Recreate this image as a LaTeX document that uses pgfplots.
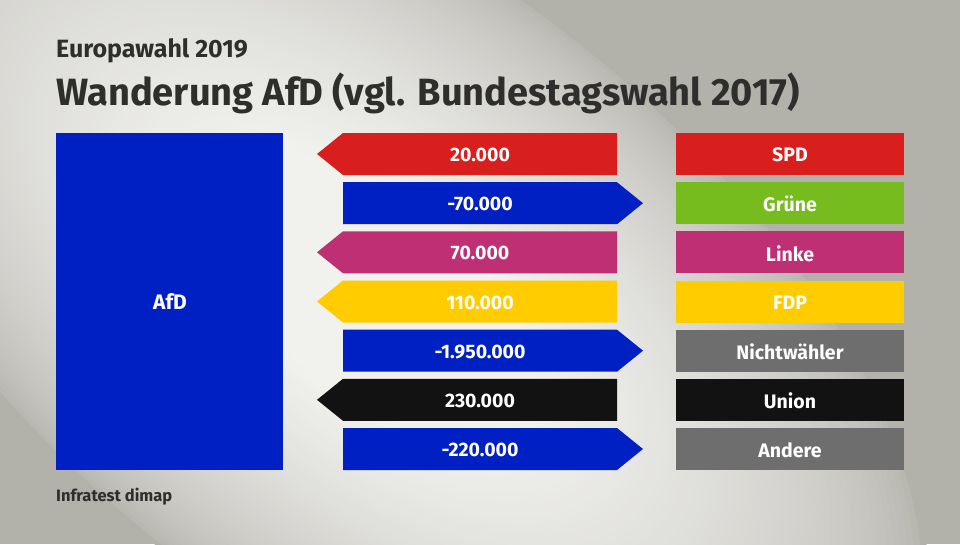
\documentclass[border=0pt]{standalone}
\usepackage{pgfplots}
\pgfplotsset{compat=1.18}
\usepackage{fontspec}
\setmainfont{Fira Sans}
\definecolor{afd}{HTML}{0020C4}
\definecolor{spd}{HTML}{D81F1E}
\definecolor{gruene}{HTML}{76BC1E}
\definecolor{linke}{HTML}{BE2F74}
\definecolor{fdp}{HTML}{FFCC00}
\definecolor{nw}{HTML}{6E6E6E}
\definecolor{union}{HTML}{121212}
\definecolor{andere}{HTML}{6E6E6E}
\definecolor{txt}{HTML}{2E2E2C}
\definecolor{bgA}{HTML}{F1F1EE}
\definecolor{bgB}{HTML}{B2B1AA}
\newcommand{\num}[1]{\pgfmathprintnumber[fixed,precision=0,1000 sep={.},assume math mode=true]{#1}}
\begin{document}
\begin{tikzpicture}[x=1pt,y=1pt]
\fill[bgB] (0,0) rectangle (960,544);
\begin{scope}
\clip (0,0) rectangle (960,544);
\foreach \i in {0,...,56} {
  \pgfmathsetmacro\f{1-\i*0.0125}
  \pgfmathsetmacro\t{min(100,100*(\i/56)^0.6)}
  \fill[bgA!\t!bgB,rotate around={-38:(370,250)}] (370,250) ellipse ({660*\f} and {330*\f});
}
\end{scope}
\useasboundingbox (0,0) rectangle (960,544);
\begin{axis}[at={(0,0)},anchor=south west,width=960pt,height=544pt,scale only axis,
  xmin=0,xmax=960,ymin=0,ymax=544,y dir=reverse,hide axis,clip=false]
% AfD block
\addplot[fill=afd,draw=none] coordinates {(56,133) (283,133) (283,470) (56,470)};
% row 1 SPD: +20000 (to AfD, left arrow)
\addplot[fill=spd,draw=none] coordinates {(343,133) (617,133) (617,175) (343,175) (317,154)};
\addplot[fill=spd,draw=none] coordinates {(676,133) (904,133) (904,175) (676,175)};
% row 2 Gruene: -70000 (right arrow)
\addplot[fill=afd,draw=none] coordinates {(343,182.2) (617,182.2) (643,203.2) (617,224.2) (343,224.2)};
\addplot[fill=gruene,draw=none] coordinates {(676,182.2) (904,182.2) (904,224.2) (676,224.2)};
% row 3 Linke: +70000
\addplot[fill=linke,draw=none] coordinates {(343,231.3) (617,231.3) (617,273.3) (343,273.3) (317,252.3)};
\addplot[fill=linke,draw=none] coordinates {(676,231.3) (904,231.3) (904,273.3) (676,273.3)};
% row 4 FDP: +110000
\addplot[fill=fdp,draw=none] coordinates {(343,280.5) (617,280.5) (617,322.5) (343,322.5) (317,301.5)};
\addplot[fill=fdp,draw=none] coordinates {(676,280.5) (904,280.5) (904,322.5) (676,322.5)};
% row 5 Nichtwaehler: -1950000
\addplot[fill=afd,draw=none] coordinates {(343,329.7) (617,329.7) (643,350.7) (617,371.7) (343,371.7)};
\addplot[fill=nw,draw=none] coordinates {(676,329.7) (904,329.7) (904,371.7) (676,371.7)};
% row 6 Union: +230000
\addplot[fill=union,draw=none] coordinates {(343,378.8) (617,378.8) (617,420.8) (343,420.8) (317,399.8)};
\addplot[fill=union,draw=none] coordinates {(676,378.8) (904,378.8) (904,420.8) (676,420.8)};
% row 7 Andere: -220000
\addplot[fill=afd,draw=none] coordinates {(343,428) (617,428) (643,449) (617,470) (343,470)};
\addplot[fill=andere,draw=none] coordinates {(676,428) (904,428) (904,470) (676,470)};

\begin{scope}[every node/.style={text=white,font=\fontsize{19.5}{21}\selectfont\bfseries,anchor=center}]
\node[font=\fontsize{21}{23}\selectfont\bfseries] at (axis cs:170,301.5) {AfD};
\node at (axis cs:480,155) {\num{20000}};
\node at (axis cs:480,204.2) {\num{-70000}};
\node at (axis cs:480,253.3) {\num{70000}};
\node at (axis cs:480,302.5) {\num{110000}};
\node at (axis cs:480,351.7) {\num{-1950000}};
\node at (axis cs:480,400.8) {\num{230000}};
\node at (axis cs:480,450) {\num{-220000}};
\node at (axis cs:790,155) {SPD};
\node at (axis cs:790,204.2) {Grüne};
\node at (axis cs:790,253.3) {Linke};
\node at (axis cs:790,302.5) {FDP};
\node at (axis cs:790,351.7) {Nichtwähler};
\node at (axis cs:790,400.8) {Union};
\node at (axis cs:790,450) {Andere};
\end{scope}
\node[anchor=base west,inner sep=0pt,text=txt,font=\fontsize{25}{27}\selectfont\bfseries] at (axis cs:56,57) {Europawahl 2019};
\node[anchor=base west,inner sep=0pt,text=txt,font=\fontsize{38}{40}\selectfont\bfseries] at (axis cs:56,105) {Wanderung AfD (vgl. Bundestagswahl 2017)};
\node[anchor=base west,inner sep=0pt,text=txt,font=\fontsize{16.5}{18}\selectfont\bfseries] at (axis cs:56,501) {Infratest dimap};
\end{axis}
\end{tikzpicture}
\end{document}
